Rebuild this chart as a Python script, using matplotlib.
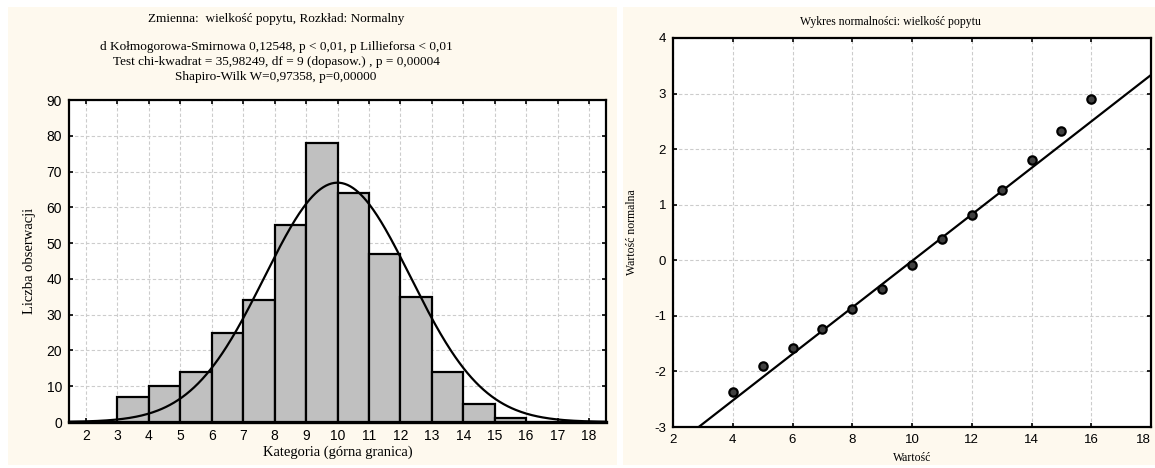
import numpy as np
import matplotlib
matplotlib.use("Agg")
import matplotlib.pyplot as plt
from matplotlib.patches import Rectangle

plt.rcParams["axes.unicode_minus"] = False

# ---------------- data ----------------
bin_left = [3, 4, 5, 6, 7, 8, 9, 10, 11, 12, 13, 14, 15]
counts = [7, 10, 14, 25, 34, 55, 78, 64, 47, 35, 14, 5, 1]
fit_mean = 10.0
fit_sd = 2.32
hist_xticks = list(range(2, 19))
hist_yticks = list(range(0, 91, 10))

qq_x = [4, 5, 6, 7, 8, 9, 10, 11, 12, 13, 14, 15, 16]
qq_y = [-2.37, -1.90, -1.58, -1.24, -0.88, -0.52, -0.09, 0.38, 0.81, 1.27, 1.81, 2.32, 2.90]
qq_line_center = 10.03
qq_line_sd = 2.39
qq_xticks = list(range(2, 19, 2))
qq_yticks = list(range(-3, 5))

title_left = ["Zmienna:  wielkość popytu, Rozkład: Normalny",
              "d Kołmogorowa-Smirnowa 0,12548, p < 0,01, p Lillieforsa < 0,01",
              "Test chi-kwadrat = 35,98249, df = 9 (dopasow.) , p = 0,00004",
              "Shapiro-Wilk W=0,97358, p=0,00000"]
title_right = "Wykres normalności: wielkość popytu"

W, H = 1155, 468
fig = plt.figure(figsize=(W / 100, H / 100), dpi=100)
fig.patch.set_facecolor("white")

cream = "#fef9ee"
serif = "Liberation Serif"
sans = "Liberation Sans"


def fx(px):
    return px / W


def fy(py):
    return 1 - py / H


# background panels
for x0, x1 in [(8, 617), (623, 1155)]:
    fig.add_artist(Rectangle((fx(x0), fy(465)), fx(x1 - x0), (465 - 7) / H,
                             transform=fig.transFigure, facecolor=cream,
                             edgecolor="none", zorder=-10))

grid_kw = dict(color="#cccccc", linestyle=(0, (3, 2)), linewidth=0.8)

# ---------------- histogram ----------------
ax1 = fig.add_axes([fx(69), fy(422), fx(606 - 69), (422 - 100) / H], zorder=2)
ax1.set_facecolor("white")
ax1.bar(bin_left, counts, width=1.0, align="edge", color="#c0c0c0",
        edgecolor="black", linewidth=1.6, zorder=3)
xs = np.linspace(1.46, 18.54, 400)
total = sum(counts)
curve = total * np.exp(-0.5 * ((xs - fit_mean) / fit_sd) ** 2) / (fit_sd * np.sqrt(2 * np.pi))
ax1.plot(xs, curve, color="black", linewidth=1.6, zorder=4)
ax1.set_xlim(1.46, 18.54)
ax1.set_ylim(0, 90)
ax1.set_xticks(hist_xticks)
ax1.set_yticks(hist_yticks)
ax1.grid(True, **grid_kw)
ax1.set_axisbelow(True)
for s in ax1.spines.values():
    s.set_linewidth(1.6)
ax1.spines["bottom"].set_linewidth(2.4)
ax1.tick_params(direction="in", top=True, right=True, length=3, width=1.2,
                labelsize=10, pad=5)
for lab in ax1.get_xticklabels() + ax1.get_yticklabels():
    lab.set_fontfamily(sans)

fig.text(fx(338), fy(452), "Kategoria (górna granica)", ha="center", va="center",
         fontfamily=serif, fontsize=10.5)
fig.text(fx(30), fy(261), "Liczba obserwacji", ha="center", va="center",
         rotation=90, fontfamily=serif, fontsize=10.5)

fig.text(fx(276), fy(19), title_left[0], ha="center", va="center",
         fontfamily=serif, fontsize=9.5)
for i, line in enumerate(title_left[1:]):
    fig.text(fx(276), fy(47 + 15 * i), line, ha="center", va="center",
             fontfamily=serif, fontsize=9.5)

# ---------------- normal probability plot ----------------
ax2 = fig.add_axes([fx(673), fy(427), fx(1151 - 673), (427 - 38) / H], zorder=2)
ax2.set_facecolor("white")
lx = np.array([2.0, 18.0])
ax2.plot(lx, (lx - qq_line_center) / qq_line_sd, color="black", linewidth=1.6, zorder=3)
ax2.plot(qq_x, qq_y, linestyle="none", marker="o", markersize=6,
         markerfacecolor="#404040", markeredgecolor="black", markeredgewidth=1.6, zorder=4)
ax2.set_xlim(2, 18)
ax2.set_ylim(-3, 4)
ax2.set_xticks(qq_xticks)
ax2.set_yticks(qq_yticks)
ax2.grid(True, **grid_kw)
ax2.set_axisbelow(True)
for s in ax2.spines.values():
    s.set_linewidth(1.6)
ax2.tick_params(direction="in", top=True, right=True, length=3, width=1.2,
                labelsize=9.5, pad=5)
for lab in ax2.get_xticklabels() + ax2.get_yticklabels():
    lab.set_fontfamily(sans)
ax2.get_xticklabels()[-1].set_horizontalalignment("right")

fig.text(fx(912), fy(458), "Wartość", ha="center", va="center",
         fontfamily=serif, fontsize=8.5)
fig.text(fx(632), fy(232), "Wartość normalna", ha="center", va="center",
         rotation=90, fontfamily=serif, fontsize=8.5)
fig.text(fx(890), fy(22), title_right, ha="center", va="center",
         fontfamily=serif, fontsize=8.5)

fig.savefig("out.png", dpi=100)
